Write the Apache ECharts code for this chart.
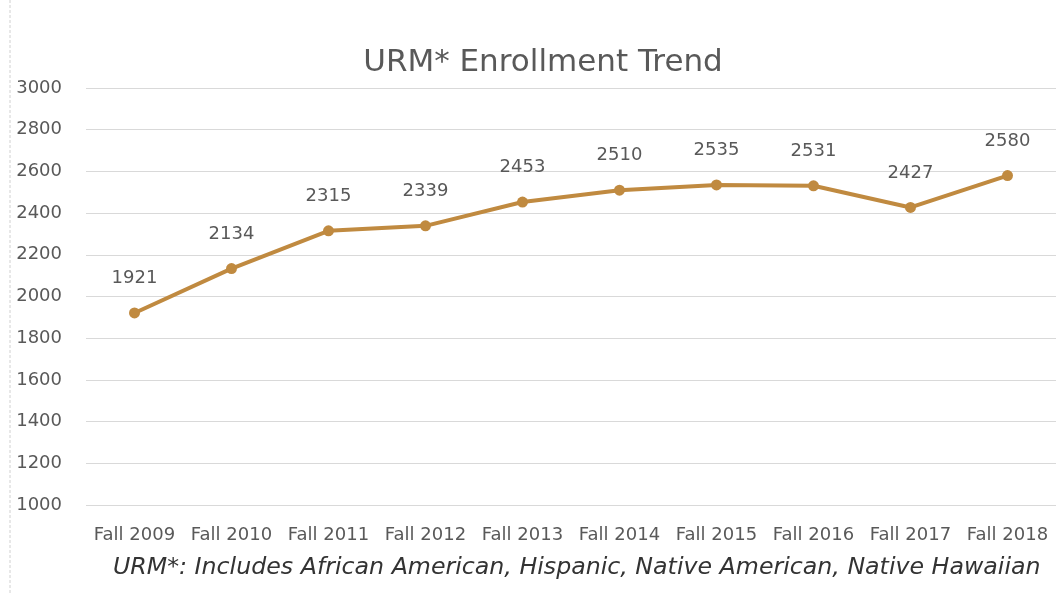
<!DOCTYPE html>
<html>
<head>
<meta charset="utf-8">
<script src="https://cdn.jsdelivr.net/npm/echarts@6/dist/echarts.min.js"></script>
<style>
  html, body { margin: 0; padding: 0; background: #fff; }
  #chart { width: 1056px; height: 593px; }
</style>
</head>
<body>
<div id="chart"></div>
<script>
const categories = ['Fall 2009', 'Fall 2010', 'Fall 2011', 'Fall 2012', 'Fall 2013',
  'Fall 2014', 'Fall 2015', 'Fall 2016', 'Fall 2017', 'Fall 2018'];
const enrollment = [1921, 2134, 2315, 2339, 2453, 2510, 2535, 2531, 2427, 2580];
const titleText = 'URM* Enrollment Trend';
const footnote = 'URM*: Includes African American, Hispanic, Native American, Native Hawaiian';

const chart = echarts.init(document.getElementById('chart'));
const txt = '#595959';
const font = 'DejaVu Sans';

chart.setOption({
  animation: false,
  backgroundColor: '#fff',
  title: {
    text: titleText,
    left: 538,
    top: 42,
    textAlign: 'center',
    textStyle: { color: txt, fontSize: 31, fontWeight: 'normal', fontFamily: font }
  },
  grid: { left: 86, right: 0, top: 88, bottom: 88 },
  xAxis: {
    type: 'category',
    data: categories,
    boundaryGap: true,
    axisLine: { show: false },
    axisTick: { show: false },
    axisLabel: { color: txt, fontSize: 18, margin: 21, fontFamily: font, interval: 0 }
  },
  yAxis: {
    type: 'value',
    min: 1000,
    max: 3000,
    interval: 200,
    axisLine: { show: false },
    axisTick: { show: false },
    axisLabel: { color: txt, fontSize: 18, margin: 24, fontFamily: font, formatter: v => String(v) },
    splitLine: { lineStyle: { color: '#d9d9d9', width: 1 } }
  },
  series: [{
    type: 'line',
    data: enrollment,
    symbol: 'circle',
    symbolSize: 11,
    lineStyle: { color: '#c08a40', width: 4 },
    itemStyle: { color: '#c08a40' },
    label: {
      show: true,
      position: 'top',
      distance: 20,
      color: txt,
      fontSize: 18,
      fontFamily: font
    }
  }],
  graphic: [
    {
      type: 'line',
      shape: { x1: 10, y1: 0, x2: 10, y2: 593 },
      style: { stroke: '#d0d0d0', lineWidth: 1, lineDash: [3, 2] }
    },
    {
      type: 'text',
      left: 113,
      top: 556,
      style: {
        text: footnote,
        fill: '#333333',
        font: 'italic 23.7px "DejaVu Sans"'
      }
    }
  ]
});
</script>
</body>
</html>
